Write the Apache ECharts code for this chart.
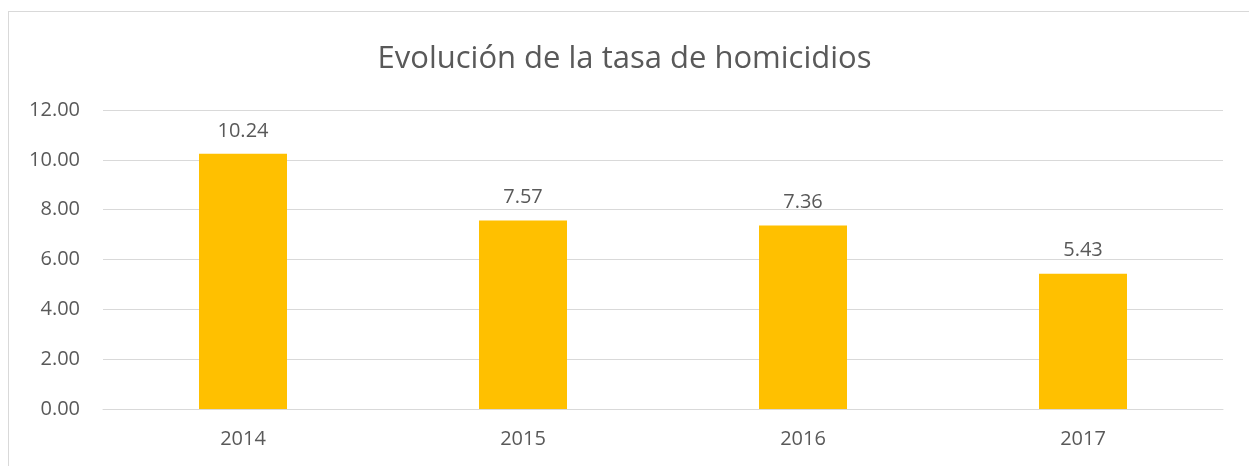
<!DOCTYPE html>
<html>
<head>
<meta charset="utf-8">
<title>Evolución de la tasa de homicidios</title>
<script src="https://cdn.jsdelivr.net/npm/echarts@6/dist/echarts.min.js"></script>
<style>
  html, body { margin: 0; padding: 0; background: #fff; overflow: hidden; }
  #wrap { position: relative; width: 1249px; height: 466px; }
  /* borde del área del gráfico (se sale por la derecha y por abajo) */
  #frame { position: absolute; left: 8px; top: 11px; width: 1300px; height: 520px; border: 1px solid #d9d9d9; box-sizing: border-box; }
  #chart { position: absolute; left: 0; top: 0; width: 1249px; height: 466px; }
</style>
</head>
<body>
<div id="wrap">
  <div id="frame"></div>
  <div id="chart"></div>
</div>
<script>
// datos
const years = ['2014', '2015', '2016', '2017']
const tasa = [10.24, 7.57, 7.36, 5.43]

const font = "'Open Sans', 'Noto Sans', sans-serif"
const grey = '#595959'

const chart = echarts.init(document.getElementById('chart'))
chart.setOption({
  animation: false,
  title: {
    text: 'Evolución de la tasa de homicidios',
    left: 'center',
    top: 39,
    textStyle: { fontFamily: font, fontSize: 31, fontWeight: 'normal', color: grey }
  },
  grid: { left: 103, right: 26, top: 110, bottom: 57 },
  xAxis: {
    type: 'category',
    data: years,
    axisLine: { lineStyle: { color: '#d9d9d9', width: 1 } },
    axisTick: { show: false },
    axisLabel: { fontFamily: font, fontSize: 20, color: grey, margin: 20 }
  },
  yAxis: {
    type: 'value',
    min: 0,
    max: 12,
    interval: 2,
    axisLine: { show: false },
    axisTick: { show: false },
    splitLine: { lineStyle: { color: '#d9d9d9', width: 1 } },
    axisLabel: {
      fontFamily: font, fontSize: 20, color: grey, margin: 23,
      formatter: v => v.toFixed(2)
    }
  },
  series: [
    {
      type: 'bar',
      data: tasa,
      barWidth: 88,
      itemStyle: { color: '#ffc000' },
      label: {
        show: true,
        position: 'top',
        distance: 13,
        fontFamily: font,
        fontSize: 20,
        color: grey,
        formatter: p => p.value.toFixed(2)
      }
    }
  ]
})
</script>
</body>
</html>
